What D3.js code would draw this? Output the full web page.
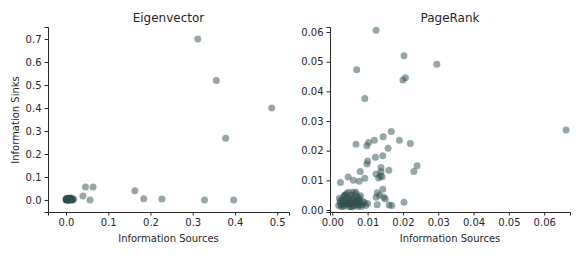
<!DOCTYPE html>
<html>
<head>
<meta charset="utf-8">
<script src="https://cdn.jsdelivr.net/npm/d3@7"></script>
<style>
  body { margin: 0; background: #fff; }
  svg text { font-family: "DejaVu Sans", sans-serif; fill: #262626; }
  .tick line, .domain { stroke: #262626; }
</style>
</head>
<body>
<div id="chart"></div>
<script>
// DATA
const eigX = [0.312, 0.356, 0.487, 0.378, 0.163, 0.184, 0.227, 0.328, 0.397,
  0.046, 0.064, 0.040, 0.057,
  0.000, 0.001, 0.002, 0.003, 0.004, 0.005, 0.006, 0.007, 0.008, 0.009,
  0.010, 0.011, 0.012, 0.013, 0.014, 0.015, 0.016, 0.018, 0.002, 0.004,
  0.006, 0.008, 0.010, 0.012, 0.001, 0.003, 0.005, 0.007, 0.009, 0.011,
  0.013, 0.000, 0.002, 0.004, 0.006, 0.008, 0.010, 0.003, 0.005, 0.007,
  0.009, 0.011, 0.001, 0.006];
const eigY = [0.700, 0.520, 0.400, 0.268, 0.040, 0.006, 0.005, 0.000, 0.000,
  0.057, 0.057, 0.018, 0.000,
  0.000, 0.001, 0.000, 0.002, 0.001, 0.000, 0.003, 0.001, 0.000, 0.002,
  0.004, 0.001, 0.000, 0.002, 0.003, 0.001, 0.000, 0.004, 0.005, 0.006,
  0.004, 0.008, 0.006, 0.007, 0.003, 0.000, 0.002, 0.005, 0.001, 0.009,
  0.005, 0.004, 0.002, 0.003, 0.000, 0.003, 0.002, 0.007, 0.004, 0.006,
  0.008, 0.003, 0.006, 0.002];

const prX = [0.0124, 0.0203, 0.0296, 0.0069, 0.0207, 0.0200, 0.0092, 0.0662,
  0.0167, 0.0144, 0.0190, 0.0119, 0.0103, 0.0221, 0.0067, 0.0098, 0.0158,
  0.0143, 0.0122, 0.0100, 0.0098, 0.0240, 0.0231, 0.0138, 0.0138, 0.0160,
  0.0079, 0.0124, 0.0136, 0.0131, 0.0141, 0.0045, 0.0060, 0.0076, 0.0092,
  0.0023, 0.0143, 0.0127, 0.0134, 0.0124, 0.0146, 0.0150, 0.0161, 0.0168,
  0.0203, 0.0127,
  0.0018, 0.0022, 0.0025, 0.0028, 0.0030, 0.0033, 0.0035, 0.0038, 0.0040,
  0.0043, 0.0045, 0.0048, 0.0050, 0.0053, 0.0055, 0.0058, 0.0060, 0.0063,
  0.0065, 0.0068, 0.0070, 0.0073, 0.0075, 0.0078, 0.0080, 0.0085, 0.0090,
  0.0095, 0.0100, 0.0020, 0.0026, 0.0032, 0.0037, 0.0042, 0.0047, 0.0052,
  0.0057, 0.0062, 0.0067, 0.0072, 0.0077, 0.0082, 0.0088, 0.0024, 0.0031,
  0.0039, 0.0046, 0.0054, 0.0061, 0.0069, 0.0076, 0.0034, 0.0044, 0.0056,
  0.0066, 0.0071];
const prY = [0.0606, 0.0520, 0.0491, 0.0473, 0.0446, 0.0438, 0.0376, 0.0270,
  0.0265, 0.0247, 0.0235, 0.0235, 0.0228, 0.0224, 0.0222, 0.0217, 0.0208,
  0.0183, 0.0178, 0.0165, 0.0155, 0.0149, 0.0130, 0.0143, 0.0129, 0.0134,
  0.0130, 0.0121, 0.0115, 0.0108, 0.0112, 0.0111, 0.0100, 0.0097, 0.0107,
  0.0093, 0.0070, 0.0058, 0.0050, 0.0043, 0.0043, 0.0037, 0.0017, 0.0015,
  0.0026, 0.0018,
  0.0015, 0.0025, 0.0012, 0.0035, 0.0020, 0.0045, 0.0015, 0.0030, 0.0055,
  0.0020, 0.0040, 0.0012, 0.0030, 0.0050, 0.0022, 0.0060, 0.0015, 0.0035,
  0.0055, 0.0025, 0.0045, 0.0012, 0.0030, 0.0020, 0.0048, 0.0018, 0.0025,
  0.0015, 0.0022, 0.0040, 0.0018, 0.0028, 0.0050, 0.0022, 0.0033, 0.0012,
  0.0040, 0.0025, 0.0060, 0.0018, 0.0035, 0.0012, 0.0028, 0.0032, 0.0012,
  0.0020, 0.0060, 0.0038, 0.0015, 0.0026, 0.0042, 0.0050, 0.0022, 0.0010,
  0.0030, 0.0019];

const eigXTicks = [0.0, 0.1, 0.2, 0.3, 0.4, 0.5];
const eigYTicks = [0.0, 0.1, 0.2, 0.3, 0.4, 0.5, 0.6, 0.7];
const prXTicks = [0.00, 0.01, 0.02, 0.03, 0.04, 0.05, 0.06];
const prYTicks = [0.00, 0.01, 0.02, 0.03, 0.04, 0.05, 0.06];

const WIDTH = 581;
const HEIGHT = 255;

const svg = d3
  .select("#chart")
  .append("svg")
  .attr("width", WIDTH)
  .attr("height", HEIGHT);

function drawPanel(opts) {
  const g = svg.append("g");

  const x = d3.scaleLinear().domain(opts.xDomain).range([opts.left, opts.right]);
  const y = d3.scaleLinear().domain(opts.yDomain).range([opts.bottom, opts.top]);

  // AXIS
  g.append("g")
    .attr("transform", `translate(0, ${opts.bottom})`)
    .call(d3.axisBottom(x).tickValues(opts.xTicks).tickFormat(d3.format(opts.fmt)).tickSizeOuter(0).tickSize(3.5).tickPadding(3))
    .call((a) => a.selectAll("text").attr("font-size", "10px"));

  g.append("g")
    .attr("transform", `translate(${opts.left}, 0)`)
    .call(d3.axisLeft(y).tickValues(opts.yTicks).tickFormat(d3.format(opts.fmt)).tickSizeOuter(0).tickSize(3.5).tickPadding(3))
    .call((a) => a.selectAll("text").attr("font-size", "10px"));

  g.selectAll(".domain").attr("stroke-width", 1);

  // POINTS
  g.selectAll("circle")
    .data(opts.xs)
    .enter()
    .append("circle")
    .attr("cx", (d) => x(d))
    .attr("cy", (d, i) => y(opts.ys[i]))
    .attr("r", 3.5)
    .attr("fill", "#2f4f4f")
    .attr("fill-opacity", 0.5);

  // LABELS
  g.append("text")
    .attr("x", (opts.left + opts.right) / 2)
    .attr("y", 22)
    .attr("text-anchor", "middle")
    .attr("font-size", "12px")
    .text(opts.title);

  g.append("text")
    .attr("x", (opts.left + opts.right) / 2)
    .attr("y", 242)
    .attr("text-anchor", "middle")
    .attr("font-size", "10px")
    .text("Information Sources");
}

drawPanel({
  title: "Eigenvector",
  xs: eigX, ys: eigY,
  xDomain: [-0.0427, 0.528], yDomain: [-0.052, 0.752],
  xTicks: eigXTicks, yTicks: eigYTicks, fmt: ".1f",
  left: 48, right: 289, top: 27, bottom: 212
});

drawPanel({
  title: "PageRank",
  xs: prX, ys: prY,
  xDomain: [-0.00065, 0.0673], yDomain: [-0.00067, 0.0617],
  xTicks: prXTicks, yTicks: prYTicks, fmt: ".2f",
  left: 330, right: 570, top: 27, bottom: 212
});

svg.append("text")
  .attr("transform", "translate(19, 120) rotate(-90)")
  .attr("text-anchor", "middle")
  .attr("font-size", "10px")
  .text("Information Sinks");
</script>
</body>
</html>
